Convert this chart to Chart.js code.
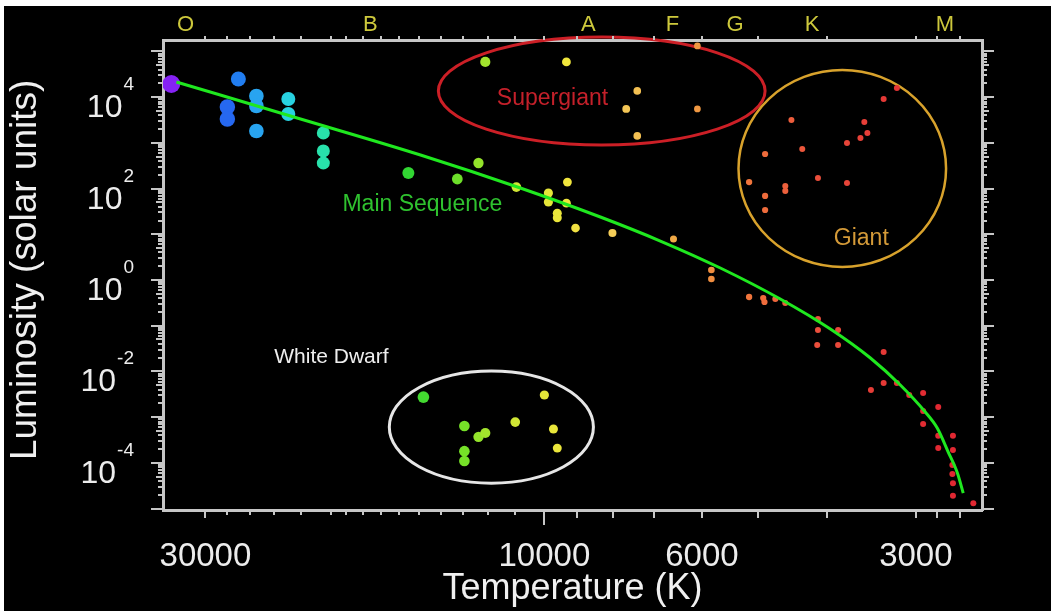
<!DOCTYPE html>
<html>
<head>
<meta charset="utf-8">
<script src="https://cdn.jsdelivr.net/npm/chart.js@4.4.1/dist/chart.umd.min.js"></script>
<style>
  html, body { margin: 0; padding: 0; background: #fff; }
  #wrap { width: 1051px; height: 611px; }
  canvas { display: block; }
</style>
</head>
<body>
<div id="wrap"><canvas id="hrChart" width="1051" height="611"></canvas></div>
<script>
// Temperature (K) and luminosity (solar units)
const msTemp = [33500, 26960, 27940, 27940, 25430, 25430, 25430, 22930, 22930, 20470, 20470, 20470,
  15540, 13260, 12380, 10950, 9870, 9870, 9280, 9310, 9590, 9590, 9040, 8020, 6580, 5820, 5820,
  5150, 4920, 4900, 4730, 4580, 4120, 4120, 3860, 3860, 4130, 3330, 3330, 3190, 3470, 3065,
  2930, 2930, 2930, 2790, 2790, 2790, 2660, 2660, 2665, 2665, 2660, 2660, 2490];
const msLum = [19450, 25000, 6100, 3340, 10600, 6420, 1820, 9140, 4290, 1650, 665, 363,
  219, 162, 363, 108, 80, 51, 139, 48, 29, 23, 13.7, 10.7, 7.9, 1.66, 1.05,
  0.425, 0.404, 0.33, 0.384, 0.314, 0.14, 0.0805, 0.0805, 0.0378, 0.0378, 0.0266, 0.0056, 0.0056, 0.0039, 0.00305,
  0.00337, 0.00136, 7.1e-4, 0.00166, 3.9e-4, 2.1e-4, 3.9e-4, 1.9e-4, 9e-5, 5.7e-5, 3.6e-5, 1.9e-5, 1.3e-5];

const sgTemp = [12110, 9310, 7400, 7670, 7400, 6090, 6090];
const sgLum = [58900, 58900, 13700, 5520, 1420, 132000, 5520];

const giantTemp = [3330, 3190, 4490, 3545, 3510, 3590, 3750, 4890, 4335, 5150, 4580, 4580, 4120, 3750, 4890, 4890];
const giantLum = [9140, 15900, 3170, 2870, 1650, 1280, 995, 571, 735, 139, 114, 89, 171, 133, 69, 34];

const wdTemp = [14800, 12960, 12380, 12110, 12960, 12960, 10990, 10000, 9710, 9590];
const wdLum = [0.00275, 6.4e-4, 3.7e-4, 4.5e-4, 1.8e-4, 1.1e-4, 7.8e-4, 0.00305, 5.5e-4, 2.1e-4];

// main sequence guide curve
const curveTemp = [32960, 22040, 14940, 10810, 8340, 6866, 5653, 4655, 3958, 3476, 3155, 2910, 2799, 2701, 2622, 2573];
const curveLum = [21510, 3334, 543.5, 103.1, 23.9, 7.13, 1.83, 0.384, 0.0847, 0.01964, 0.00504, 0.001293,
  5.77e-4, 1.72e-4, 5.98e-5, 2.18e-5];

// axes
const xTickValues = [30000, 28000, 26000, 24000, 22000, 20000, 19000, 18000, 17000, 16000, 15000, 14000,
  13000, 12000, 11000, 10000, 9000, 8000, 7000, 6000, 5000, 4000, 3000, 2800, 2600];
const xLabelValues = [30000, 10000, 6000, 3000];
const spectralClasses = ['O', 'B', 'A', 'F', 'G', 'K', 'M'];
const spectralTemps = [32000, 17580, 8670, 6600, 5390, 4200, 2730];
const yLabelExponents = [4, 2, 0, -2, -4];

// circled regions (temperature and luminosity extents) and text labels
const regionNames = ['Supergiant', 'Giant', 'White Dwarf'];
const regionTemp = [[14100, 4890], [5330, 2720], [16530, 8530]];
const regionLum = [[900, 207000], [1.93, 39400], [3.6e-5, 0.0102]];
const labelTexts = ['Supergiant', 'Giant', 'Main Sequence', 'White Dwarf'];
const labelTemp = [9740, 3580, 14850, 19940];
const labelLum = [9140, 8.1, 43.8, 0.0207];

const FONT = "'Liberation Sans', Arial, sans-serif";
const AXIS_COLOR = '#c6c6c6';
const TEXT_COLOR = '#ececec';
Chart.defaults.font.family = FONT;

const colourStops = [
  [4.53, 140, 30, 245], [4.44, 30, 110, 240], [4.405, 40, 165, 240], [4.36, 40, 210, 225],
  [4.31, 40, 225, 170], [4.19, 50, 215, 50], [4.11, 120, 225, 40], [4.06, 200, 230, 50],
  [3.97, 240, 230, 60], [3.90, 245, 205, 90], [3.82, 240, 170, 70], [3.72, 240, 120, 60],
  [3.62, 235, 80, 60], [3.45, 225, 40, 50]
];
const radiusStops = [[4.53, 9], [4.43, 7.5], [4.36, 7], [4.31, 6.5], [4.19, 6], [4.1, 5.2],
  [4.0, 4.6], [3.9, 4], [3.8, 3.4], [3.65, 3], [3.4, 3]];

function interp(stops, t) {
  const lt = Math.log10(t);
  if (lt >= stops[0][0]) return stops[0].slice(1);
  for (let i = 0; i < stops.length - 1; i++) {
    const a = stops[i], b = stops[i + 1];
    if (lt <= a[0] && lt >= b[0]) {
      const f = (a[0] - lt) / (a[0] - b[0]);
      return a.slice(1).map((v, k) => v + (b[k + 1] - v) * f);
    }
  }
  return stops[stops.length - 1].slice(1);
}

function starColour(t) {
  const c = interp(colourStops, t).map(Math.round);
  return `rgb(${c[0]},${c[1]},${c[2]})`;
}

function starSet(label, temps, lums) {
  return {
    type: 'scatter',
    label: label,
    data: temps.map((t, i) => ({ x: t, y: lums[i] })),
    backgroundColor: ctx => ctx.raw ? starColour(ctx.raw.x) : '#fff',
    pointRadius: ctx => ctx.raw ? interp(radiusStops, ctx.raw.x)[0] : 3,
    pointHoverRadius: ctx => ctx.raw ? interp(radiusStops, ctx.raw.x)[0] : 3,
    borderWidth: 0
  };
}

const backdrop = {
  id: 'backdrop',
  beforeDraw(chart) {
    const { ctx, width, height } = chart;
    ctx.save();
    ctx.fillStyle = '#fff';
    ctx.fillRect(0, 0, width, height);
    ctx.fillStyle = '#000';
    ctx.fillRect(4, 6, width - 4, height - 6);
    ctx.restore();
  }
};

const regions = {
  id: 'regions',
  beforeDatasetsDraw(chart) {
    const { ctx, scales: { x, y } } = chart;
    const strokes = ['#cc1f26', '#d8a22c', '#e6e6e6'];
    const widths = [3, 2.5, 3];
    ctx.save();
    regionNames.forEach((name, i) => {
      const x1 = x.getPixelForValue(regionTemp[i][0]);
      const x2 = x.getPixelForValue(regionTemp[i][1]);
      const y1 = y.getPixelForValue(regionLum[i][0]);
      const y2 = y.getPixelForValue(regionLum[i][1]);
      ctx.beginPath();
      ctx.ellipse((x1 + x2) / 2, (y1 + y2) / 2, Math.abs(x2 - x1) / 2, Math.abs(y2 - y1) / 2, 0, 0, Math.PI * 2);
      ctx.strokeStyle = strokes[i];
      ctx.lineWidth = widths[i];
      ctx.stroke();
    });
    const fills = ['#c4202a', '#d49a38', '#2fc22f', '#eeeeee'];
    const sizes = [23, 23, 23, 21];
    ctx.textAlign = 'center';
    ctx.textBaseline = 'middle';
    labelTexts.forEach((txt, i) => {
      ctx.font = `${sizes[i]}px ${FONT}`;
      ctx.fillStyle = fills[i];
      ctx.fillText(txt, x.getPixelForValue(labelTemp[i]), y.getPixelForValue(labelLum[i]));
    });
    ctx.restore();
  }
};

// tick marks of different lengths on all four sides, plus the 10^n labels
const axisDecor = {
  id: 'axisDecor',
  afterDraw(chart) {
    const { ctx, chartArea: a, scales: { x, y } } = chart;
    ctx.save();
    ctx.strokeStyle = AXIS_COLOR;
    ctx.lineWidth = 2;
    ctx.beginPath();
    xTickValues.forEach(v => {
      const px = Math.round(x.getPixelForValue(v));
      const len = v === 10000 ? 15 : (v === 30000 || v <= 9000 ? 8 : 5);
      ctx.moveTo(px, a.bottom);
      ctx.lineTo(px, a.bottom + len);
      ctx.moveTo(px, a.top);
      ctx.lineTo(px, a.top - 4);
    });
    for (let k = -6; k <= 5; k++) {
      for (let m = 1; m <= 9; m++) {
        const v = m * Math.pow(10, k);
        if (v < y.min || v > y.max) continue;
        const py = Math.round(y.getPixelForValue(v));
        const len = m === 1 ? 12 : (m === 5 ? 7 : 5);
        ctx.moveTo(a.left, py);
        ctx.lineTo(a.left - len, py);
        ctx.moveTo(a.right, py);
        ctx.lineTo(a.right + len, py);
      }
    }
    ctx.stroke();

    ctx.fillStyle = TEXT_COLOR;
    ctx.textBaseline = 'alphabetic';
    const right = a.left - 29;
    yLabelExponents.forEach(e => {
      const py = y.getPixelForValue(Math.pow(10, e));
      const sup = String(e);
      ctx.font = `19px ${FONT}`;
      const sw = ctx.measureText(sup).width;
      ctx.textAlign = 'left';
      ctx.fillText(sup, right - sw, py - 7);
      ctx.font = `32px ${FONT}`;
      ctx.textAlign = 'right';
      ctx.fillText('10', right - sw - 1, py + 20);
    });
    ctx.restore();
  }
};

const T_MIN = 2421, T_MAX = 34420;
const L_MIN = 9.3e-6, L_MAX = 1.78e5;
const gridOpts = { display: true, drawOnChartArea: false, drawTicks: false };
const borderOpts = { display: true, color: AXIS_COLOR, width: 3 };

new Chart(document.getElementById('hrChart'), {
  type: 'scatter',
  data: {
    datasets: [
      {
        type: 'line',
        label: 'Main sequence',
        data: curveTemp.map((t, i) => ({ x: t, y: curveLum[i] })),
        borderColor: '#1fe81f',
        borderWidth: 3,
        pointRadius: 0,
        fill: false,
        cubicInterpolationMode: 'monotone',
        order: -1
      },
      starSet('Main sequence stars', msTemp, msLum),
      starSet('Supergiants', sgTemp, sgLum),
      starSet('Giants', giantTemp, giantLum),
      starSet('White dwarfs', wdTemp, wdLum)
    ]
  },
  options: {
    responsive: false,
    animation: false,
    devicePixelRatio: 1,
    layout: { padding: 0 },
    plugins: { legend: { display: false }, tooltip: { enabled: false } },
    scales: {
      x: {
        type: 'logarithmic', position: 'bottom', reverse: true, bounds: 'data',
        min: T_MIN, max: T_MAX,
        afterBuildTicks: s => { s.ticks = xTickValues.map(v => ({ value: v })); },
        afterFit: s => { s.height = 101; },
        ticks: {
          autoSkip: false, maxRotation: 0, padding: 30, color: TEXT_COLOR,
          font: { size: 33, lineHeight: 1 },
          callback: v => xLabelValues.includes(v) ? String(v) : ''
        },
        grid: gridOpts, border: borderOpts,
        title: { display: true, text: 'Temperature (K)', color: '#f0f0f0', font: { size: 36 }, padding: { top: 0, bottom: 0 } }
      },
      x2: {
        type: 'logarithmic', position: 'top', reverse: true, bounds: 'data',
        min: T_MIN, max: T_MAX,
        afterBuildTicks: s => { s.ticks = spectralTemps.map(v => ({ value: v })); },
        afterFit: s => { s.height = 40; },
        ticks: {
          autoSkip: false, maxRotation: 0, padding: 4, color: '#cdc83c',
          font: { size: 22, lineHeight: 1 },
          callback: (v, i) => spectralClasses[i]
        },
        grid: gridOpts, border: borderOpts
      },
      y: {
        type: 'logarithmic', position: 'left', bounds: 'data',
        min: L_MIN, max: L_MAX,
        afterFit: s => { s.width = 163; },
        ticks: { display: false },
        grid: gridOpts, border: borderOpts,
        title: { display: true, text: '\u00a0Luminosity (solar units)', color: '#f0f0f0', font: { size: 37 }, padding: { top: 4, bottom: 0 } }
      },
      y2: {
        type: 'logarithmic', position: 'right', bounds: 'data',
        min: L_MIN, max: L_MAX,
        afterFit: s => { s.width = 69; },
        ticks: { display: false },
        grid: gridOpts, border: borderOpts
      }
    }
  },
  plugins: [backdrop, regions, axisDecor]
});
</script>
</body>
</html>
